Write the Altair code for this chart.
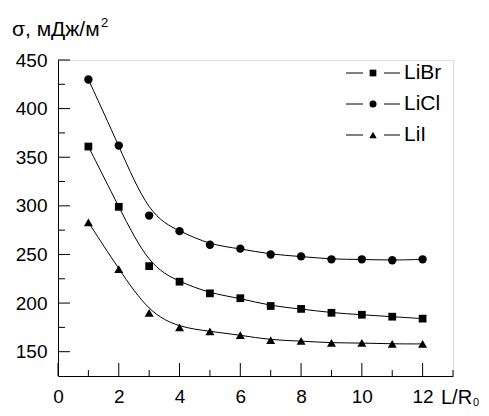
import altair as alt
import pandas as pd

# ---- data ----
x_vals = [1, 2, 3, 4, 5, 6, 7, 8, 9, 10, 11, 12]
licl = [430, 362, 290, 274, 260, 256, 250, 248, 245, 245, 244, 245]
libr = [361, 299, 238, 222, 210, 205, 197, 194, 190, 188, 186, 184]
lii = [283, 235, 190, 175, 171, 167, 162, 161, 159, 159, 158, 158]

series_names = ["LiBr", "LiCl", "LiI"]
series_values = [libr, licl, lii]
series_shapes = ["square", "circle", "triangle-up"]
plot_sizes = [60, 70, 80]
legend_sizes = [45, 50, 55]

y_major = [150, 200, 250, 300, 350, 400, 450]
y_minor = [175, 225, 275, 325, 375, 425]
x_major = [0, 2, 4, 6, 8, 10, 12]
x_minor = [1, 3, 5, 7, 9, 11, 13]

title_text = "σ, мДж/м"
title_sup = "2"
x_title = "L/R"
x_title_sub = "0"

FONT = "Liberation Sans"
W, H = 395, 316

rows = []
for name, vals in zip(series_names, series_values):
    for xv, yv in zip(x_vals, vals):
        rows.append({"x": xv, "y": yv, "s": name})
df = pd.DataFrame(rows)

xs = alt.Scale(domain=[0, 13], nice=False, zero=False)
ys = alt.Scale(domain=[125, 450], nice=False, zero=False)

X = alt.X("x:Q", scale=xs,
          axis=alt.Axis(values=x_major, ticks=False, grid=False, title=None,
                        domainColor="black", domainWidth=1,
                        labelFont=FONT, labelFontSize=19, labelColor="black",
                        labelPadding=11, labelFlush=False))
Y = alt.Y("y:Q", scale=ys,
          axis=alt.Axis(values=y_major, ticks=False, grid=False, title=None,
                        domainColor="black", domainWidth=1,
                        labelFont=FONT, labelFontSize=19, labelColor="black",
                        labelPadding=11, labelFlush=False))

layers = []
for name, shape, size in zip(series_names, series_shapes, plot_sizes):
    sub = df[df.s == name]
    base = alt.Chart(sub)
    layers.append(base.mark_line(color="black", strokeWidth=1, interpolate="basis").encode(x=X, y=Y))
    layers.append(base.mark_point(shape=shape, filled=True, color="black", opacity=1, size=size).encode(x=X, y=Y))

# inward ticks
ymaj = alt.Chart(pd.DataFrame({"y": y_major})).mark_rule(color="black", strokeWidth=1).encode(
    y=alt.Y("y:Q", scale=ys), x=alt.value(0), x2=alt.value(12))
ymin = alt.Chart(pd.DataFrame({"y": y_minor})).mark_rule(color="black", strokeWidth=1).encode(
    y=alt.Y("y:Q", scale=ys), x=alt.value(0), x2=alt.value(7))
xmaj = alt.Chart(pd.DataFrame({"x": x_major})).mark_rule(color="black", strokeWidth=1).encode(
    x=alt.X("x:Q", scale=xs), y=alt.value(H), y2=alt.value(H - 13))
xmin = alt.Chart(pd.DataFrame({"x": x_minor})).mark_rule(color="black", strokeWidth=1).encode(
    x=alt.X("x:Q", scale=xs), y=alt.value(H), y2=alt.value(H - 6))
layers += [ymaj, ymin, xmaj, xmin]

# title and axis label
layers.append(alt.Chart(pd.DataFrame({"t": [title_text]})).mark_text(
    font=FONT, fontSize=21, align="left", baseline="alphabetic", color="black").encode(
    text="t:N", x=alt.value(-46), y=alt.value(-24)))
layers.append(alt.Chart(pd.DataFrame({"t": [title_sup]})).mark_text(
    font=FONT, fontSize=13, align="left", baseline="alphabetic", color="black").encode(
    text="t:N", x=alt.value(43), y=alt.value(-33)))
layers.append(alt.Chart(pd.DataFrame({"t": [x_title]})).mark_text(
    font=FONT, fontSize=20, align="left", baseline="alphabetic", color="black").encode(
    text="t:N", x=alt.value(383), y=alt.value(344)))
layers.append(alt.Chart(pd.DataFrame({"t": [x_title_sub]})).mark_text(
    font=FONT, fontSize=11, align="left", baseline="alphabetic", color="black").encode(
    text="t:N", x=alt.value(415), y=alt.value(346)))

# manual legend
for i, (name, shape, size) in enumerate(zip(series_names, series_shapes, legend_sizes)):
    yy = 13 + i * 31
    one = alt.Chart(pd.DataFrame({"t": [name]}))
    layers.append(one.mark_rule(color="black", strokeWidth=1).encode(
        x=alt.value(288), x2=alt.value(305), y=alt.value(yy)))
    layers.append(one.mark_rule(color="black", strokeWidth=1).encode(
        x=alt.value(326), x2=alt.value(342), y=alt.value(yy)))
    layers.append(one.mark_point(shape=shape, filled=True, color="black", opacity=1, size=size).encode(
        x=alt.value(315), y=alt.value(yy)))
    layers.append(one.mark_text(font=FONT, fontSize=21, align="left", baseline="middle", color="black").encode(
        text="t:N", x=alt.value(346), y=alt.value(yy)))

chart = alt.layer(*layers).properties(
    width=W, height=H,
    autosize=alt.AutoSizeParams(type="none"),
    padding={"left": 50, "top": 52, "right": 28, "bottom": 32},
).configure_view(stroke=None).configure(background="white")

chart.save("out.html", embed_options={"renderer": "svg", "actions": False})
